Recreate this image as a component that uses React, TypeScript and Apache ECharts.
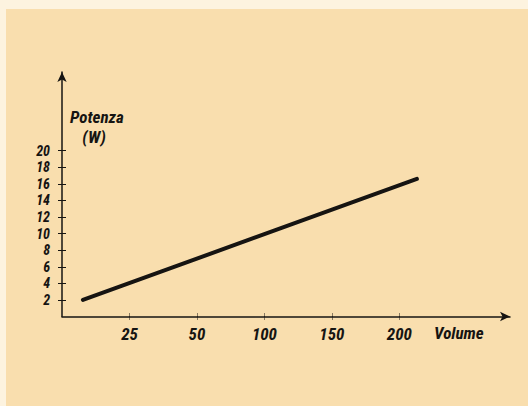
import React, { useEffect, useRef } from "react";
import * as echarts from "echarts";

// Volume scale positions (equally spaced ticks) and their labels
const xTickPositions = [1, 2, 3, 4, 5];
const xTickLabels = ["25", "50", "100", "150", "200"];
const yTickValues = [2, 4, 6, 8, 10, 12, 14, 16, 18, 20];
// Line endpoints: [position on volume scale, power in W]
const linePositions = [0.31, 5.26];
const linePower = [2.0, 16.6];

const FONT = "'Roboto Condensed', 'DejaVu Sans Condensed', sans-serif";
const INK = "#161412";

export default function App() {
  const ref = useRef<HTMLDivElement>(null);
  useEffect(() => {
    document.body.style.margin = "0";
    const chart = echarts.init(ref.current!, null, { renderer: "svg" });
    const labelStyle = {
      fontFamily: FONT,
      fontStyle: "italic" as const,
      fontWeight: "bold" as const,
      fontSize: 14,
      lineHeight: 14,
      color: INK,
      showMinLabel: true,
      showMaxLabel: true,
      hideOverlap: false,
    };
    const textStyle = (text: string, align: string) => ({
      fill: INK,
      text,
      verticalAlign: "middle",
      align,
      fontFamily: FONT,
      fontStyle: "italic",
      fontWeight: "bold",
      fontSize: 17,
    });
    const xLabelMap: Record<number, string> = {};
    xTickPositions.forEach((p, i) => (xLabelMap[p] = xTickLabels[i]));
    // split the tightly stacked y labels over two overlaid axes so none is hidden
    const yLabelsA = yTickValues.filter((_, i) => i % 2 === 0);
    const yLabelsB = yTickValues.filter((_, i) => i % 2 === 1);
    chart.setOption({
      animation: false,
      backgroundColor: "#fdf3df",
      graphic: [
        {
          type: "rect",
          z: -10,
          shape: { x: 6, y: 9, width: 522, height: 397 },
          style: { fill: "#f9deae" },
        },
        { type: "text", x: 70, y: 117, style: textStyle("Potenza", "left") },
        { type: "text", x: 94, y: 137, style: textStyle("(W)", "center") },
        { type: "text", x: 434, y: 333, style: textStyle("Volume", "left") },
      ],
      grid: { left: 62, right: 18, top: 72, bottom: 89.5, containLabel: false },
      xAxis: [
        {
          type: "value",
          min: 0,
          max: 6.64,
          splitLine: { show: false },
          axisLine: {
            show: true,
            symbol: ["none", "arrow"],
            symbolSize: [7, 10],
            lineStyle: { color: INK, width: 1.5 },
          },
          axisTick: { show: true, inside: true, length: 4, customValues: xTickPositions, lineStyle: { color: INK, width: 1, type: "dotted" } },
          axisLabel: {
            ...labelStyle,
            fontSize: 17,
            lineHeight: 17,
            margin: 9,
            customValues: xTickPositions,
            formatter: (v: number) => xLabelMap[v] ?? "",
          },
        },
        {
          type: "value",
          position: "bottom",
          min: 0,
          max: 6.64,
          splitLine: { show: false },
          axisLine: { show: false },
          axisTick: { show: true, inside: false, length: 4, customValues: xTickPositions, lineStyle: { color: INK, width: 1, type: "dotted" } },
          axisLabel: { show: false },
        },
      ],
      yAxis: [
        {
          type: "value",
          min: 0,
          max: 29.5,
          splitLine: { show: false },
          axisLine: {
            show: true,
            symbol: ["none", "arrow"],
            symbolSize: [7, 10],
            lineStyle: { color: INK, width: 1.5 },
          },
          axisTick: { show: true, inside: true, length: 5, customValues: yTickValues, lineStyle: { color: INK, width: 1, type: "dashed" } },
          axisLabel: {
            ...labelStyle,
            margin: 12,
            customValues: yLabelsA,
          },
        },
        {
          type: "value",
          position: "left",
          min: 0,
          max: 29.5,
          splitLine: { show: false },
          axisLine: { show: false },
          axisTick: { show: true, inside: false, length: 6, customValues: yTickValues, lineStyle: { color: INK, width: 1, type: "dashed" } },
          axisLabel: {
            ...labelStyle,
            margin: 12,
            customValues: yLabelsB,
          },
        },
      ],
      series: [
        {
          type: "line",
          data: linePositions.map((p, i) => [p, linePower[i]]),
          symbol: "none",
          lineStyle: { color: INK, width: 4, cap: "round" },
        },
      ],
    });
    return () => chart.dispose();
  }, []);
  return <div ref={ref} style={{ width: 528, height: 406 }} />;
}
